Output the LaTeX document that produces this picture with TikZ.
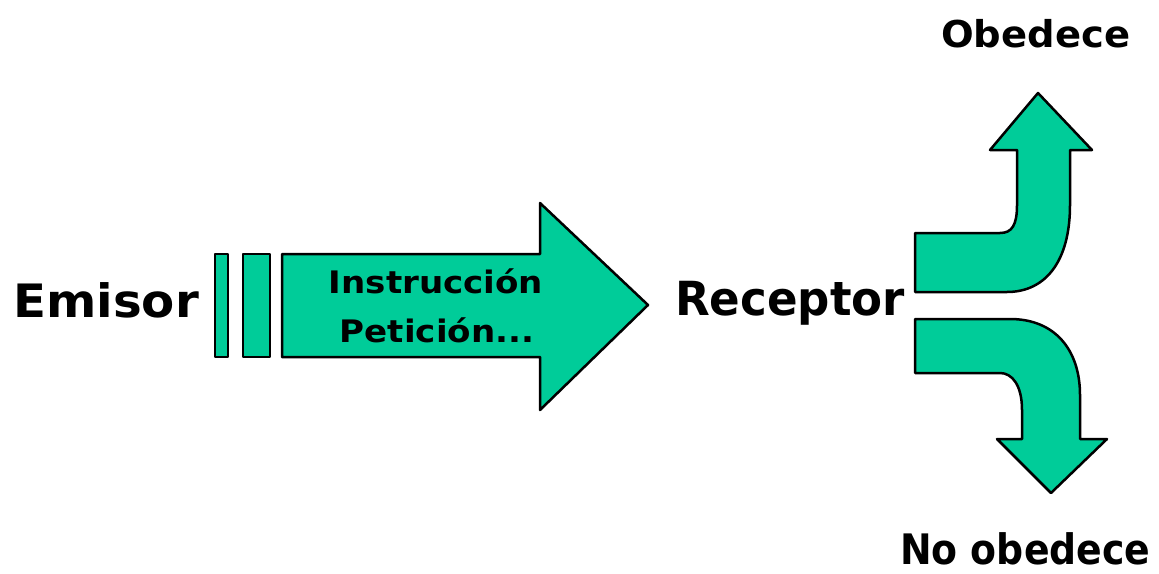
\documentclass[tikz,border=0pt]{standalone}
\usepackage{fontspec}
\setmainfont{DejaVu Sans}
\definecolor{arrgreen}{RGB}{0,204,153}
\begin{document}
\begin{tikzpicture}[x=1pt,y=-1pt,
  greenshape/.style={fill=arrgreen,draw=black,line width=2.5pt,line join=round},
  lbl/.style={inner sep=0pt,font=\bfseries}]
\useasboundingbox (0,0) rectangle (1159,573);
% bars and main arrow
\draw[greenshape] (215,254) rectangle (228,357);
\draw[greenshape] (243,254) rectangle (270,357);
\draw[greenshape] (282,254) -- (540,254) -- (540,203) -- (648,305) -- (540,410) -- (540,357) -- (282,357) -- cycle;
% upper curved arrow
\draw[greenshape] (915,233) -- (1000,233) .. controls (1012,233) and (1017,225) .. (1017,205)
  -- (1017,150) -- (990,150) -- (1038,93) -- (1092,150) -- (1070,150) -- (1070,205)
  .. controls (1070,262) and (1045,292) .. (1007,292) -- (915,292) -- cycle;
% lower curved arrow
\draw[greenshape] (915,319) -- (1010,319) .. controls (1055,319) and (1080,350) .. (1080,395)
  -- (1080,439) -- (1107,439) -- (1051,493) -- (997,439) -- (1022,439) -- (1022,410)
  .. controls (1022,385) and (1012,373) .. (1000,373) -- (915,373) -- cycle;
% labels
\node[lbl,anchor=base west,font=\bfseries\fontsize{46}{50}\selectfont] (emisor) at (13,317) {\scalebox{1.05}[1]{Emisor}};
\node[lbl,anchor=base west,font=\bfseries\fontsize{47}{50}\selectfont] (receptor) at (675,315) {\scalebox{0.96}[1]{Receptor}};
\node[lbl,anchor=base west,font=\bfseries\fontsize{37}{40}\selectfont] (obedece) at (941,47) {\scalebox{1.04}[1]{Obedece}};
\node[lbl,anchor=base west,font=\bfseries\fontsize{42}{46}\selectfont] (noobedece) at (900,564) {\scalebox{0.9}[1]{No obedece}};
\node[lbl,anchor=base,font=\bfseries\fontsize{31}{34}\selectfont] (instr) at (436,293) {\scalebox{1.1}[1]{Instrucción}};
\node[lbl,anchor=base,font=\bfseries\fontsize{31}{34}\selectfont] (petic) at (437,342) {\scalebox{1.1}[1]{Petición...}};
\end{tikzpicture}
\end{document}
